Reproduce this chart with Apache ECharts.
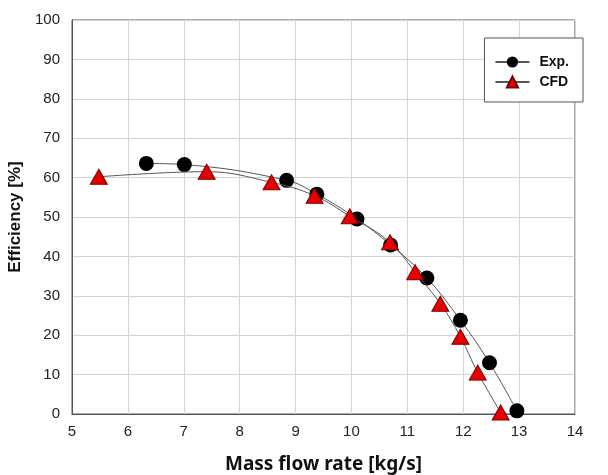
<!DOCTYPE html>
<html>
<head>
<meta charset="utf-8">
<script src="https://cdn.jsdelivr.net/npm/echarts@6/dist/echarts.min.js"></script>
<style>
  html, body { margin: 0; padding: 0; background: #fff; }
  #chart { width: 608px; height: 475px; }
</style>
</head>
<body>
<div id="chart"></div>
<script>
// measured points [mass flow, efficiency]
const expData = [
  [6.33, 63.6], [7.01, 63.3], [8.84, 59.3], [9.38, 55.8], [10.1, 49.5],
  [10.7, 42.9], [11.35, 34.5], [11.95, 23.8], [12.47, 13.0], [12.96, 0.8]
];
const cfdData = [
  [5.48, 60.2], [7.41, 61.5], [8.57, 58.8], [9.34, 55.4], [9.97, 50.2],
  [10.69, 43.6], [11.14, 36.0], [11.59, 28.0], [11.95, 19.6], [12.26, 10.5],
  [12.67, 0.4]
];
const seriesNames = ['Exp.', 'CFD'];

const tickFont = { color: '#222', fontSize: 15, fontFamily: 'Liberation Sans, Arial, sans-serif' };

let chart = echarts.init(document.getElementById('chart'));
chart.setOption({
  animation: false,
  grid: {
    left: 72, right: 33, top: 20, bottom: 61,
    outerBoundsMode: 'none',
    show: true, borderColor: '#555', borderWidth: 1
  },
  legend: {
    data: seriesNames,
    orient: 'vertical',
    right: 25, top: 38,
    padding: [17, 14, 13, 10],
    itemGap: 6,
    itemWidth: 34, itemHeight: 14,
    borderColor: '#555', borderWidth: 1,
    backgroundColor: '#fff',
    textStyle: {
      color: '#111', fontSize: 14, fontWeight: 'bold',
      fontFamily: 'Liberation Sans, Arial, sans-serif',
      padding: [0, 0, 0, 5]
    }
  },
  xAxis: {
    type: 'value',
    min: 5, max: 14, interval: 1,
    name: 'Mass flow rate [kg/s]',
    nameLocation: 'middle',
    nameGap: 41,
    nameTextStyle: { color: '#111', fontSize: 19, fontWeight: 'bold', fontFamily: 'Noto Sans, Open Sans, sans-serif' },
    axisLine: { show: true, lineStyle: { color: '#555' } },
    axisTick: { show: false },
    axisLabel: Object.assign({ margin: 10 }, tickFont),
    splitLine: { show: true, lineStyle: { color: '#d4d4d4' } }
  },
  yAxis: {
    type: 'value',
    min: 0, max: 100, interval: 10,
    name: 'Efficiency [%]',
    nameLocation: 'middle',
    nameGap: 43,
    nameTextStyle: { color: '#111', fontSize: 17, fontWeight: 'bold', fontFamily: 'Liberation Sans, Arial, sans-serif' },
    axisLine: { show: true, lineStyle: { color: '#555' } },
    axisTick: { show: false },
    axisLabel: Object.assign({ margin: 12 }, tickFont),
    splitLine: { show: true, lineStyle: { color: '#d4d4d4' } }
  },
  series: [
    {
      name: 'Exp.',
      type: 'line',
      data: expData,
      smooth: 0.4,
      symbol: 'circle',
      symbolSize: 15,
      itemStyle: { color: '#000', borderColor: '#000', borderWidth: 0 },
      lineStyle: { color: '#555', width: 1 },
      z: 3
    },
    {
      name: 'CFD',
      type: 'line',
      data: cfdData,
      smooth: 0.4,
      symbol: 'triangle',
      symbolSize: [17, 15],
      itemStyle: { color: '#e60000', borderColor: '#7a0000', borderWidth: 1 },
      lineStyle: { color: '#555', width: 1 },
      z: 4
    }
  ]
});
</script>
</body>
</html>
